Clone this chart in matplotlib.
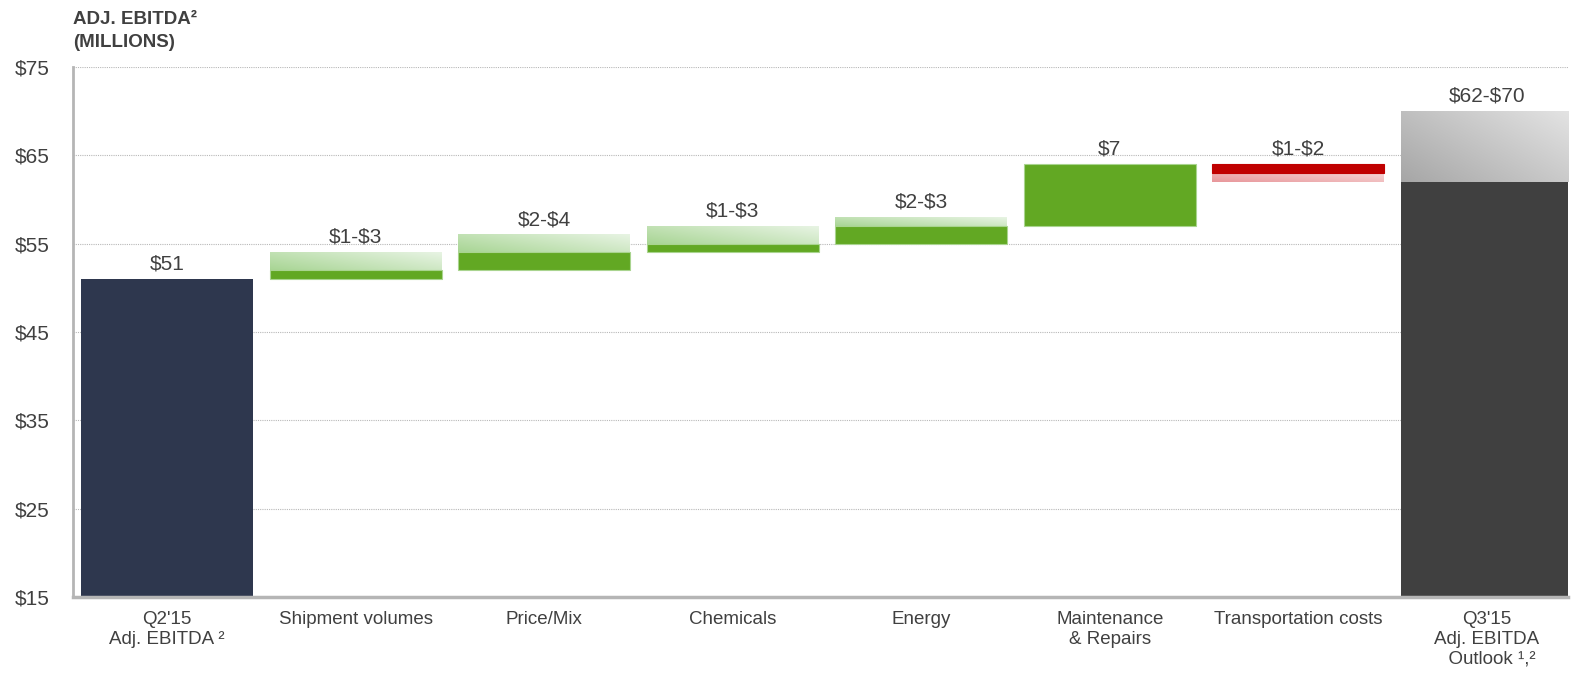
import numpy as np
import matplotlib
matplotlib.use("Agg")
import matplotlib.pyplot as plt
from matplotlib.colors import to_rgb

# Bridge from Q2'15 to the Q3'15 outlook, in $ millions
categories = ["Q2'15\nAdj. EBITDA \u00b2", "Shipment volumes", "Price/Mix", "Chemicals",
              "Energy", "Maintenance\n& Repairs", "Transportation costs",
              "Q3'15\nAdj. EBITDA\n  Outlook \u00b9,\u00b2"]
start_value = 51
step_low = [1, 2, 1, 2, 7, -1]      # firm part of each driver
step_extra = [2, 2, 2, 1, 0, -1]    # additional range on top of the firm part
end_low = 62
end_high = 70
y_ticks = [15, 25, 35, 45, 55, 65, 75]

TEXT = "#404040"
NAVY = "#2e374e"
GREEN = "#62a823"
RED = "#c00000"
DARK = "#404040"

plt.rcParams['font.family'] = ['Liberation Sans', 'DejaVu Sans']

fig = plt.figure(figsize=(15.77, 6.75), dpi=100)
ax = fig.add_axes([73 / 1577, 78 / 675, 1495 / 1577, 530 / 675])

width = 0.912


def money(v):
    return "\\$" + str(v)


def gradient_bar(x, y0, y1, c_low, c_high):
    # diagonal fade: darker at lower-left, lighter towards upper-right
    lo, hi = min(y0, y1), max(y0, y1)
    u = np.linspace(0, 1, 200)
    v = np.linspace(0, 1, 60)
    t = (u[None, :] * 0.6 + v[:, None] * 0.4)
    a, b = np.array(to_rgb(c_low)), np.array(to_rgb(c_high))
    img = a + (b - a) * t[..., None]
    ax.imshow(img, extent=[x - width / 2, x + width / 2, lo, hi], origin='lower',
              aspect='auto', zorder=2, interpolation='bilinear')


def value_label(x, y, text):
    ax.annotate(text, (x, y), xytext=(0, 4), textcoords='offset points',
                ha='center', va='bottom', fontsize=15, color=TEXT)


# starting bar
ax.bar(0, start_value - 15, bottom=15, width=width, color=NAVY, zorder=2)
value_label(0, start_value, money(start_value))

base = start_value
for i, (lo, ex) in enumerate(zip(step_low, step_extra), start=1):
    solid_color = GREEN if lo > 0 else RED
    ax.bar(i, lo, bottom=base, width=width, color=solid_color, zorder=3,
           edgecolor="#a9d48f" if lo > 0 else RED, linewidth=0.8)
    if ex:
        if lo > 0:
            gradient_bar(i, base + lo, base + lo + ex, "#a8d594", "#e8f4e4")
        else:
            gradient_bar(i, base + lo, base + lo + ex, "#e8969a", "#f6d6d6")
        label = money(abs(lo)) + "-" + money(abs(lo + ex))
    else:
        label = money(abs(lo))
    value_label(i, max(base, base + lo + ex), label)
    base += lo

# outlook bar
n = len(categories) - 1
ax.bar(n, end_low - 15, bottom=15, width=width, color=DARK, zorder=2)
gradient_bar(n, end_low, end_high, "#a6a6a6", "#e4e4e4")
value_label(n, end_high, money(end_low) + "-" + money(end_high))

ax.set_xlim(-0.5, 7.43)
ax.set_ylim(15, 75)
ax.set_yticks(y_ticks)
ax.set_yticklabels([money(v) for v in y_ticks])
ax.set_xticks(range(len(categories)))
ax.set_xticklabels(categories, fontsize=13.5, color=TEXT, linespacing=1.22)
ax.tick_params(axis='y', length=0, pad=17, labelsize=15, labelcolor=TEXT)
ax.tick_params(axis='x', length=0, pad=10)

ax.grid(axis='y', color='#b8b8b8', linestyle=(0, (1, 1)), linewidth=0.8, zorder=0)
ax.set_axisbelow(True)
for s in ['top', 'right']:
    ax.spines[s].set_visible(False)
ax.spines['left'].set_color('#b5b5b5')
ax.spines['left'].set_linewidth(2)
ax.spines['bottom'].set_color('#b5b5b5')
ax.spines['bottom'].set_linewidth(2.5)

fig.text(73 / 1577, 1 - 11 / 675, "ADJ. EBITDA\u00b2\n(MILLIONS)", ha='left', va='top',
         fontsize=13.5, fontweight='bold', color=TEXT, linespacing=1.45)

fig.savefig("out.png", dpi=100)
